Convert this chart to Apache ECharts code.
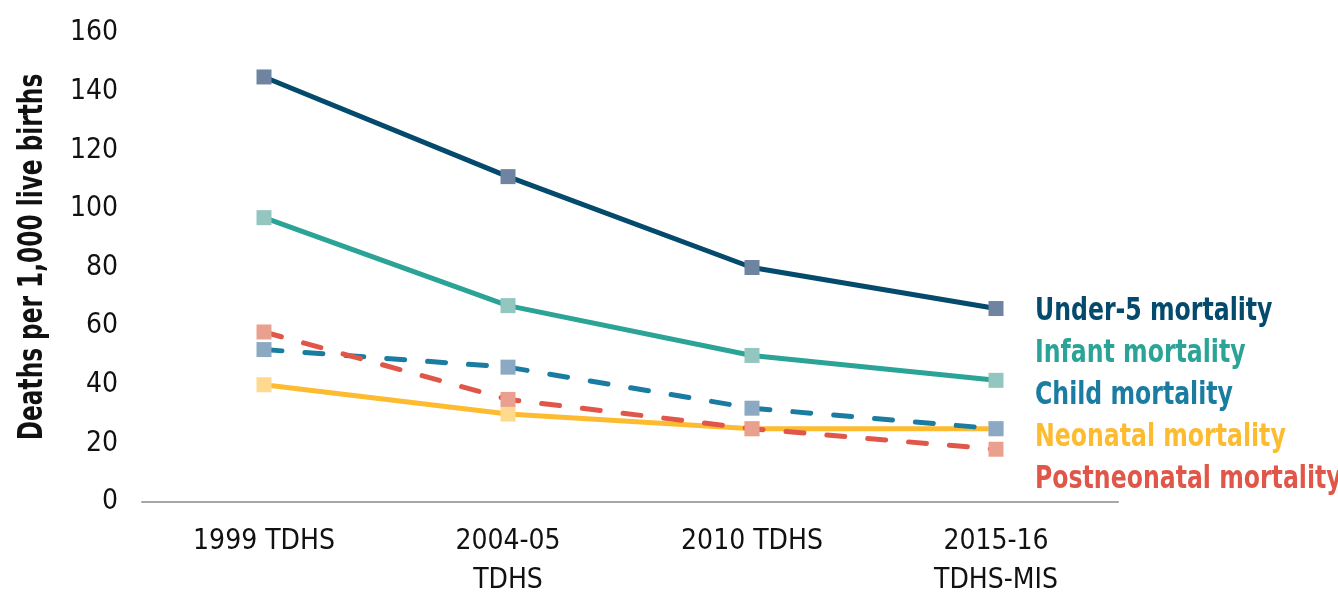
<!DOCTYPE html>
<html>
<head>
<meta charset="utf-8">
<script src="https://cdn.jsdelivr.net/npm/echarts@6/dist/echarts.min.js"></script>
<style>
  html, body { margin: 0; padding: 0; background: #fff; }
  #chart { width: 1338px; height: 593px; }
</style>
</head>
<body>
<div id="chart"></div>
<script>
// Survey rounds (x axis)
const categories = ['1999 TDHS', '2004-05\nTDHS', '2010 TDHS', '2015-16\nTDHS-MIS'];

// Deaths per 1,000 live births
const under5 = [145, 111, 80, 66];
const infant = [97, 67, 50, 41.5];
const child = [52, 46, 32, 25];
const neonatal = [40, 30, 25, 25];
const postneonatal = [58, 35, 25, 18];

const seriesNames = ['Under-5 mortality', 'Infant mortality', 'Child mortality', 'Neonatal mortality', 'Postneonatal mortality'];
const lineColors = ['#034A6C', '#2BA396', '#1A7CA0', '#FDBB30', '#E0574A'];
const markerColors = ['#6E84A0', '#93C6BE', '#8BA9C3', '#FED98E', '#EAA08E'];
const dashed = [false, false, true, false, true];
// neonatal sits underneath the dashed series where they overlap
const layer = [2, 2, 2, 1, 2];
const values = [under5, infant, child, neonatal, postneonatal];
const yTitle = 'Deaths per 1,000 live births';

const FONT = "'DejaVu Sans Condensed', 'Liberation Sans Narrow', sans-serif";

const chart = echarts.init(document.getElementById('chart'), null, { renderer: 'canvas' });

// Colored series key on the right, narrowed to a condensed look
const keyItems = seriesNames.map((n, i) => ({
  type: 'text',
  left: 1035,
  top: 296 + i * 42,
  scaleX: 0.82,
  style: {
    text: n,
    fill: lineColors[i],
    font: "bold 32px " + FONT
  },
  silent: true
}));

// Rotated y-axis title
const yTitleItem = {
  type: 'text',
  x: 33,
  y: 257,
  rotation: Math.PI / 2,
  scaleX: 0.76,
  style: {
    text: yTitle,
    fill: '#111',
    font: "bold 34px " + FONT,
    align: 'center',
    verticalAlign: 'middle'
  },
  silent: true
};

chart.setOption({
  animation: false,
  backgroundColor: '#ffffff',
  grid: {
    left: 142, right: 220, top: 33, bottom: 91,
    containLabel: false,
    outerBoundsMode: 'none'
  },
  graphic: [yTitleItem].concat(keyItems),
  xAxis: {
    type: 'category',
    data: categories,
    boundaryGap: true,
    axisLine: { show: true, lineStyle: { color: '#A6A6A6', width: 2 } },
    axisTick: { show: false },
    axisLabel: {
      interval: 0,
      margin: 20,
      color: '#111',
      fontFamily: FONT,
      fontSize: 28,
      lineHeight: 39
    },
    splitLine: { show: false }
  },
  yAxis: {
    type: 'value',
    min: 0,
    max: 160,
    interval: 20,
    axisLine: { show: false },
    axisTick: { show: false },
    splitLine: { show: false },
    axisLabel: {
      margin: 24,
      color: '#111',
      fontFamily: FONT,
      fontSize: 28
    }
  },
  series: values.map((v, i) => ({
    name: seriesNames[i],
    type: 'line',
    data: v,
    z: layer[i],
    symbol: 'rect',
    symbolSize: 15,
    showAllSymbol: true,
    color: lineColors[i],
    lineStyle: {
      color: lineColors[i],
      width: 5,
      type: dashed[i] ? [18, 23] : 'solid',
      cap: 'round'
    },
    itemStyle: { color: markerColors[i], borderWidth: 0 },
    emphasis: { disabled: true }
  }))
});
</script>
</body>
</html>
